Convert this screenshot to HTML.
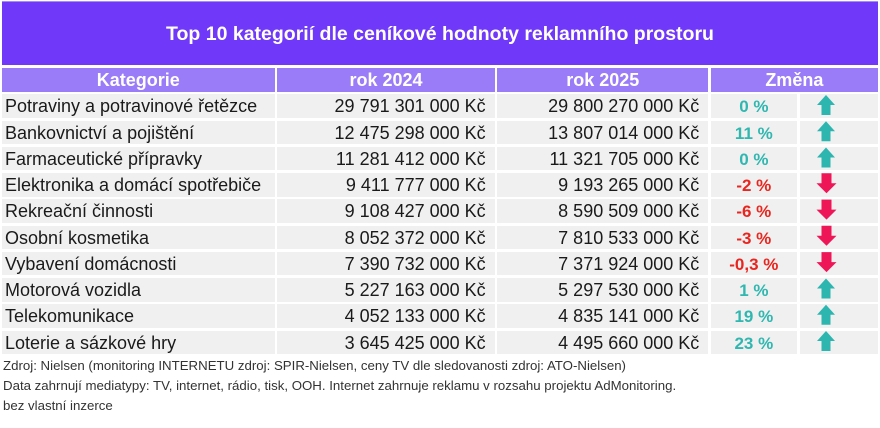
<!DOCTYPE html>
<html>
<head>
<meta charset="utf-8">
<style>
  html,body{margin:0;padding:0;background:#fff;}
  body{width:880px;height:428px;position:relative;overflow:hidden;font-family:"Liberation Sans",Arial,sans-serif;}
  .abs{position:absolute;box-sizing:border-box;white-space:nowrap;}
  .title{left:2px;top:1px;width:876px;height:64px;background:#7038f8;color:#fff;font-weight:bold;font-size:19.5px;line-height:64px;text-align:center;border-top:1px solid #a58cf5;}
  .th{background:#9a7cf9;color:#fff;font-weight:bold;font-size:18px;text-align:center;height:23.5px;line-height:24px;top:68.3px;}
  .td{background:#f0f0f0;color:#1a1a1a;font-size:18px;height:23.5px;line-height:24px;}
  .l{text-align:left;padding-left:3px;}
  .r{text-align:right;padding-right:9px;}
  .p{text-align:center;font-weight:bold;font-size:17px;line-height:25px;}
  .up{color:#2fb7b0;}
  .dn{color:#e8261f;}
  .foot{font-size:13.25px;color:#333;left:3px;line-height:16px;}
  svg{position:absolute;}
</style>
</head>
<body>
<div class="abs title">Top 10 kategorií dle ceníkové hodnoty reklamního prostoru</div>

<div class="abs th" style="left:2px;width:272.5px;">Kategorie</div>
<div class="abs th" style="left:277.3px;width:217.4px;">rok 2024</div>
<div class="abs th" style="left:497.3px;width:211px;">rok 2025</div>
<div class="abs th" style="left:710.7px;width:167.3px;">Změna</div>

<div class="abs td l" style="left:2px;width:272.5px;top:94.3px;">Potraviny a potravinové řetězce</div>
<div class="abs td r" style="left:277.3px;width:217.4px;top:94.3px;">29 791 301 000 Kč</div>
<div class="abs td r" style="left:497.3px;width:211px;top:94.3px;">29 800 270 000 Kč</div>
<div class="abs td p up" style="left:710.7px;width:86.3px;top:94.3px;">0 %</div>
<div class="abs td" style="left:799.7px;width:78.3px;top:94.3px;"></div>

<div class="abs td l" style="left:2px;width:272.5px;top:120.6px;">Bankovnictví a pojištění</div>
<div class="abs td r" style="left:277.3px;width:217.4px;top:120.6px;">12 475 298 000 Kč</div>
<div class="abs td r" style="left:497.3px;width:211px;top:120.6px;">13 807 014 000 Kč</div>
<div class="abs td p up" style="left:710.7px;width:86.3px;top:120.6px;">11 %</div>
<div class="abs td" style="left:799.7px;width:78.3px;top:120.6px;"></div>

<div class="abs td l" style="left:2px;width:272.5px;top:146.8px;">Farmaceutické přípravky</div>
<div class="abs td r" style="left:277.3px;width:217.4px;top:146.8px;">11 281 412 000 Kč</div>
<div class="abs td r" style="left:497.3px;width:211px;top:146.8px;">11 321 705 000 Kč</div>
<div class="abs td p up" style="left:710.7px;width:86.3px;top:146.8px;">0 %</div>
<div class="abs td" style="left:799.7px;width:78.3px;top:146.8px;"></div>

<div class="abs td l" style="left:2px;width:272.5px;top:173.1px;">Elektronika a domácí spotřebiče</div>
<div class="abs td r" style="left:277.3px;width:217.4px;top:173.1px;">9 411 777 000 Kč</div>
<div class="abs td r" style="left:497.3px;width:211px;top:173.1px;">9 193 265 000 Kč</div>
<div class="abs td p dn" style="left:710.7px;width:86.3px;top:173.1px;">-2 %</div>
<div class="abs td" style="left:799.7px;width:78.3px;top:173.1px;"></div>

<div class="abs td l" style="left:2px;width:272.5px;top:199.4px;">Rekreační činnosti</div>
<div class="abs td r" style="left:277.3px;width:217.4px;top:199.4px;">9 108 427 000 Kč</div>
<div class="abs td r" style="left:497.3px;width:211px;top:199.4px;">8 590 509 000 Kč</div>
<div class="abs td p dn" style="left:710.7px;width:86.3px;top:199.4px;">-6 %</div>
<div class="abs td" style="left:799.7px;width:78.3px;top:199.4px;"></div>

<div class="abs td l" style="left:2px;width:272.5px;top:225.6px;">Osobní kosmetika</div>
<div class="abs td r" style="left:277.3px;width:217.4px;top:225.6px;">8 052 372 000 Kč</div>
<div class="abs td r" style="left:497.3px;width:211px;top:225.6px;">7 810 533 000 Kč</div>
<div class="abs td p dn" style="left:710.7px;width:86.3px;top:225.6px;">-3 %</div>
<div class="abs td" style="left:799.7px;width:78.3px;top:225.6px;"></div>

<div class="abs td l" style="left:2px;width:272.5px;top:251.9px;">Vybavení domácnosti</div>
<div class="abs td r" style="left:277.3px;width:217.4px;top:251.9px;">7 390 732 000 Kč</div>
<div class="abs td r" style="left:497.3px;width:211px;top:251.9px;">7 371 924 000 Kč</div>
<div class="abs td p dn" style="left:710.7px;width:86.3px;top:251.9px;">-0,3 %</div>
<div class="abs td" style="left:799.7px;width:78.3px;top:251.9px;"></div>

<div class="abs td l" style="left:2px;width:272.5px;top:278.2px;">Motorová vozidla</div>
<div class="abs td r" style="left:277.3px;width:217.4px;top:278.2px;">5 227 163 000 Kč</div>
<div class="abs td r" style="left:497.3px;width:211px;top:278.2px;">5 297 530 000 Kč</div>
<div class="abs td p up" style="left:710.7px;width:86.3px;top:278.2px;">1 %</div>
<div class="abs td" style="left:799.7px;width:78.3px;top:278.2px;"></div>

<div class="abs td l" style="left:2px;width:272.5px;top:304.4px;">Telekomunikace</div>
<div class="abs td r" style="left:277.3px;width:217.4px;top:304.4px;">4 052 133 000 Kč</div>
<div class="abs td r" style="left:497.3px;width:211px;top:304.4px;">4 835 141 000 Kč</div>
<div class="abs td p up" style="left:710.7px;width:86.3px;top:304.4px;">19 %</div>
<div class="abs td" style="left:799.7px;width:78.3px;top:304.4px;"></div>

<div class="abs td l" style="left:2px;width:272.5px;top:330.7px;">Loterie a sázkové hry</div>
<div class="abs td r" style="left:277.3px;width:217.4px;top:330.7px;">3 645 425 000 Kč</div>
<div class="abs td r" style="left:497.3px;width:211px;top:330.7px;">4 495 660 000 Kč</div>
<div class="abs td p up" style="left:710.7px;width:86.3px;top:330.7px;">23 %</div>
<div class="abs td" style="left:799.7px;width:78.3px;top:330.7px;"></div>

<svg width="880" height="428" style="left:0;top:0;">
  <defs>
    <path id="au" d="M0 10 L9 0 L18 10 L13.5 10 L13.5 20 L4.5 20 L4.5 10 Z"/>
    <path id="ad" d="M4.5 0 L14.5 0 L14.5 10 L19.5 10 L9.5 20 L-0.5 10 L4.5 10 Z"/>
  </defs>
  <g fill="#2db6b0">
    <use href="#au" x="817" y="95"/>
    <use href="#au" x="817" y="121.3"/>
    <use href="#au" x="817" y="147.5"/>
    <use href="#au" x="817" y="278.5"/>
    <use href="#au" x="817" y="304.7"/>
    <use href="#au" x="817" y="331"/>
  </g>
  <g fill="#ee1656">
    <use href="#ad" x="817" y="173.3"/>
    <use href="#ad" x="817" y="199.6"/>
    <use href="#ad" x="817" y="225.8"/>
    <use href="#ad" x="817" y="252.1"/>
  </g>
</svg>

<div class="abs foot" style="top:358px;">Zdroj: Nielsen (monitoring INTERNETU zdroj: SPIR-Nielsen, ceny TV dle sledovanosti zdroj: ATO-Nielsen)</div>
<div class="abs foot" style="top:378px;">Data zahrnují mediatypy: TV, internet, rádio, tisk, OOH. Internet zahrnuje reklamu v rozsahu projektu AdMonitoring.</div>
<div class="abs foot" style="top:398px;">bez vlastní inzerce</div>
</body>
</html>
